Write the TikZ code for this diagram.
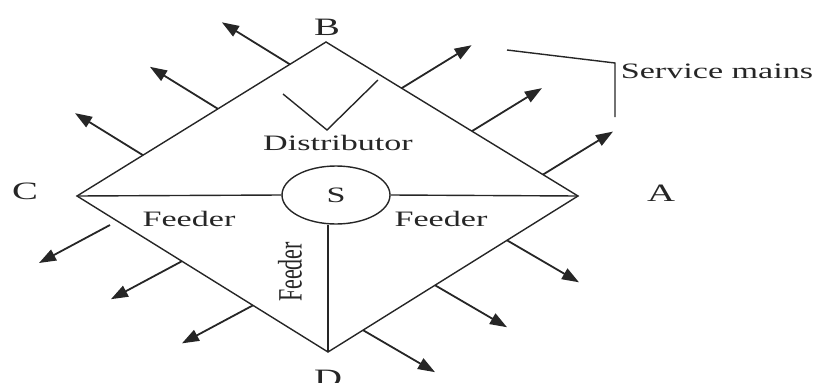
\documentclass[tikz,border=0pt]{standalone}
\usepackage{fontspec}
\usepackage{graphicx}
\setmainfont{Liberation Serif}
\newfontfamily\widefont[FakeStretch=1.55]{Liberation Serif}
\usetikzlibrary{arrows.meta,shapes.geometric,calc}
\tikzset{
  edge/.style={line width=1.4pt, draw=black!85},
  svc/.style={line width=1.8pt, draw=black!85, -{Triangle[length=17pt,width=12pt]}},
  lbl/.style={font=\widefont\fontsize{22}{26}\selectfont, inner sep=0pt, text=black!85},
  vlbl/.style={font=\widefont\fontsize{25}{30}\selectfont, inner sep=0pt, text=black!85},
}
\begin{document}
\begin{tikzpicture}[x=1pt,y=-1pt]
\useasboundingbox (0,0) rectangle (825,383);
% vertices
\coordinate (B) at (326,42);
\coordinate (A) at (578,196);
\coordinate (C) at (77,196);
\coordinate (D) at (328,352);
% diamond
\draw[edge, line join=miter] (B) -- (A) -- (D) -- (C) -- cycle;
% source
\node[ellipse, draw=black!85, line width=1.4pt, minimum width=108pt, minimum height=58pt, inner sep=0pt, lbl] (S) at (336,195) {S};
\draw[edge] (C) -- (S.west);
\draw[edge] (S.east) -- (A);
\draw[edge] (S.south -| D) -- (D);
% vertex labels
\node[vlbl] (lB) at (327,27) {B};
\node[vlbl] (lC) at (25,191) {C};
\node[vlbl] (lA) at (661,193) {A};
\node[vlbl] (lD) at (328,378) {D};
% other labels
\node[lbl] (dist) at (338,143) {Distributor};
\node[lbl] (serv) at (717,71) {Service mains};
\node[lbl] (f1) at (189,219) {Feeder};
\node[lbl] (f2) at (441,219) {Feeder};
\node[inner sep=0pt, rotate=90, text=black!85] (f3) at (290,272) {\scalebox{1}[1.55]{\fontsize{22}{26}\selectfont Feeder}};
% distributor pointer
\coordinate (v1) at (283,94);
\coordinate (v2) at (327,130);
\coordinate (v3) at (378,80);
\draw[edge] (v1) -- (v2) -- (v3);
% service mains bracket
\coordinate (s1) at (507,50);
\coordinate (s2) at (615,63);
\coordinate (s3) at (615,117);
\draw[edge] (s1) -- (s2) -- (s3);
% upper-left service mains
\foreach \t [count=\i] in {0.265,0.566,0.855} {
  \coordinate (ul\i) at ($(C)!\t!(B)$);
  \coordinate (ult\i) at ($(ul\i)+(-68,-42)$);
  \draw[svc] (ul\i) -- (ult\i);
}
% upper-right
\foreach \t [count=\i] in {0.30,0.579,0.861} {
  \coordinate (ur\i) at ($(B)!\t!(A)$);
  \coordinate (urt\i) at ($(ur\i)+(70,-43)$);
  \draw[svc] (ur\i) -- (urt\i);
}
% lower-left
\coordinate (ll1) at (110,225);
\coordinate (ll2) at ($(C)!0.418!(D)$);
\coordinate (ll3) at ($(C)!0.701!(D)$);
\foreach \i in {1,2,3} {
  \coordinate (llt\i) at ($(ll\i)+(-71,38)$);
  \draw[svc] (ll\i) -- (llt\i);
}
% lower-right
\foreach \t [count=\i] in {0.14,0.428,0.716} {
  \coordinate (lr\i) at ($(D)!\t!(A)$);
  \coordinate (lrt\i) at ($(lr\i)+(72,42)$);
  \draw[svc] (lr\i) -- (lrt\i);
}
\end{tikzpicture}
\end{document}
